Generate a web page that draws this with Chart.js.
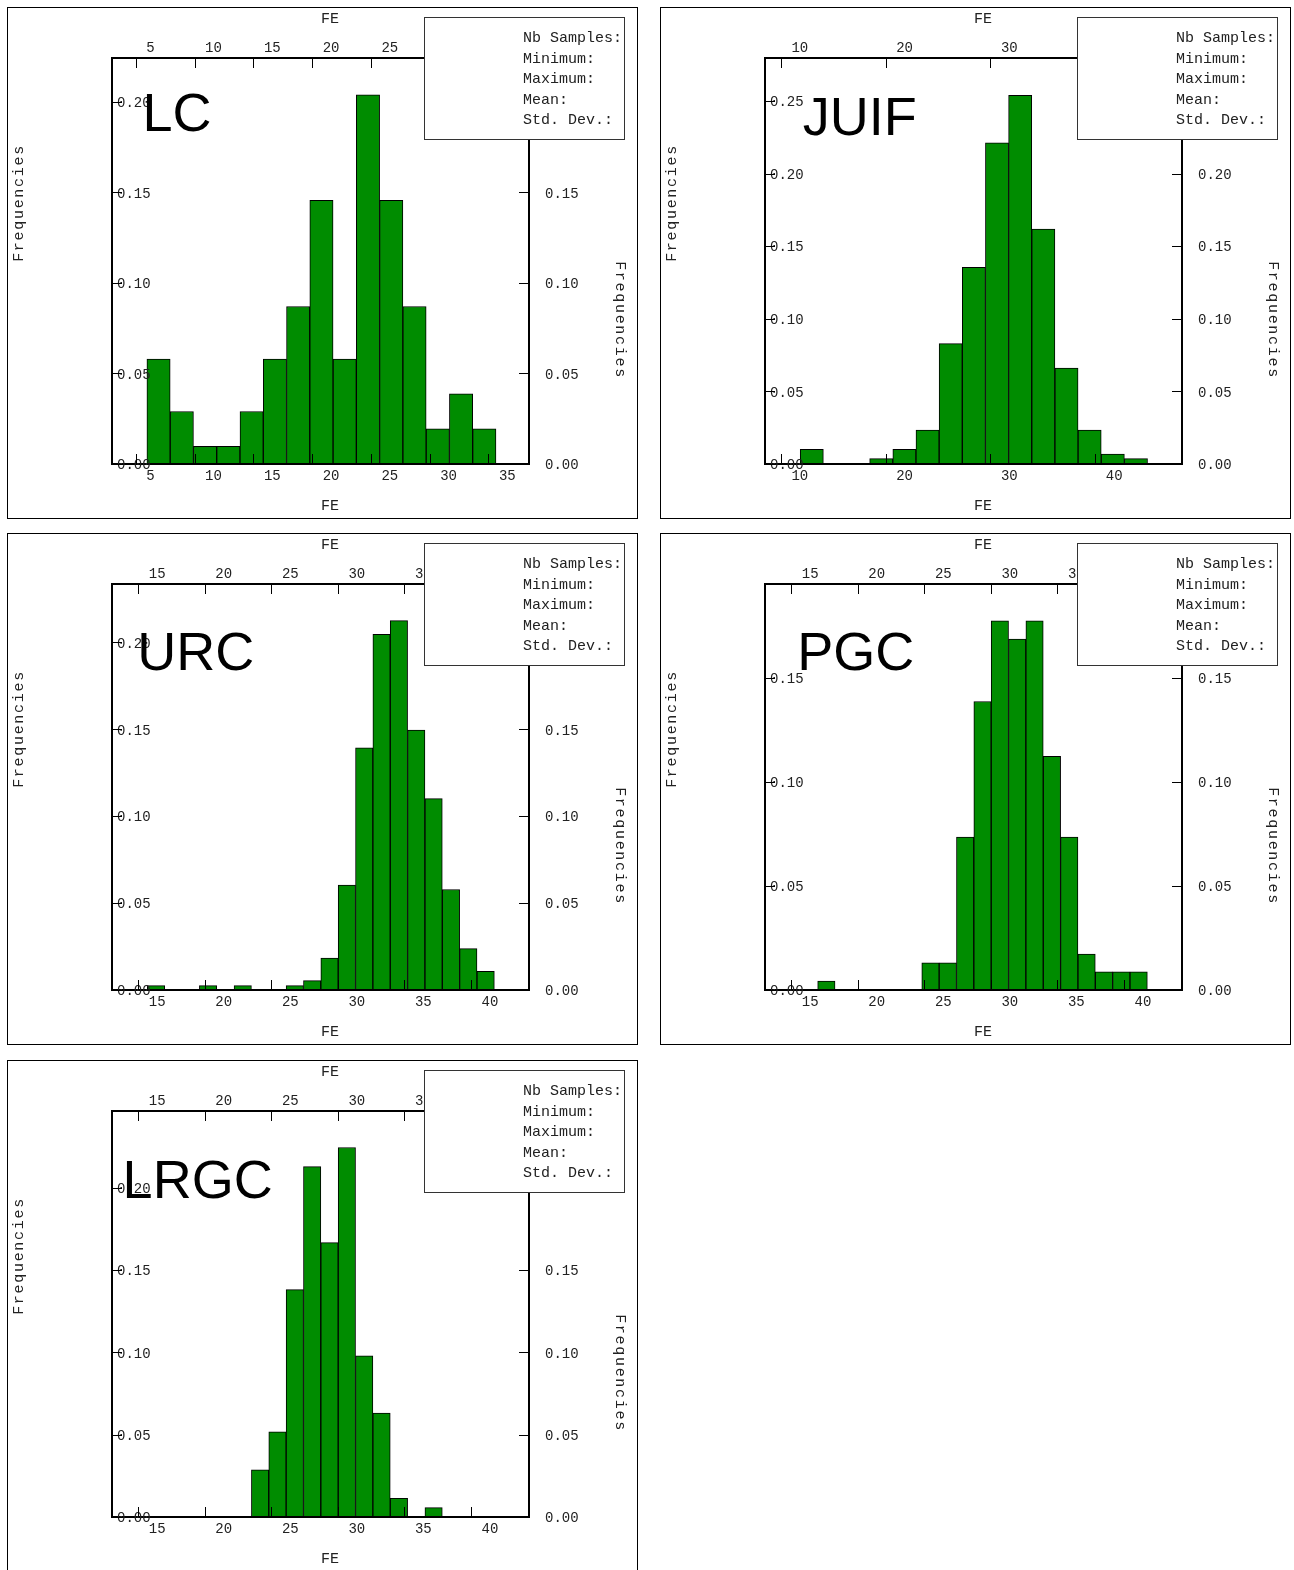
<!DOCTYPE html>
<html>
<head>
<meta charset="utf-8">
<script src="https://cdn.jsdelivr.net/npm/chart.js@4.4.1/dist/chart.umd.min.js"></script>
<style>
  body { margin: 0; background: #fff; width: 1294px; height: 1570px; overflow: hidden; position: relative; }
  div.panel { position: absolute; border: 1px solid #000; width: 629px; height: 510px; }
  div.panel canvas { display: block; }
</style>
</head>
<body>
<div class="panel" style="left:7px;top:7px"><canvas id="c0" width="629" height="510"></canvas></div>
<div class="panel" style="left:660px;top:7px"><canvas id="c1" width="629" height="510"></canvas></div>
<div class="panel" style="left:7px;top:533px"><canvas id="c2" width="629" height="510"></canvas></div>
<div class="panel" style="left:660px;top:533px"><canvas id="c3" width="629" height="510"></canvas></div>
<div class="panel" style="left:7px;top:1060px"><canvas id="c4" width="629" height="510"></canvas></div>
<script>
// group names and the (empty) statistics block
const groups = ['LC', 'JUIF', 'URC', 'PGC', 'LRGC'];
const statLabels = ['Nb Samples:', 'Minimum:', 'Maximum:', 'Mean:', 'Std. Dev.:'];

// bin centres (FE)
const lcBins = [6.93, 8.91, 10.89, 12.87, 14.85, 16.83, 18.81, 20.79, 22.77, 24.75, 26.73, 28.71, 30.69, 32.67, 34.65];
const juifBins = [12.945, 15.155, 17.365, 19.575, 21.785, 23.995, 26.205, 28.415, 30.625, 32.835, 35.045, 37.255, 39.465, 41.675, 43.885];
const sharedBins = [16.327, 17.631, 18.935, 20.239, 21.543, 22.847, 24.151, 25.455, 26.759, 28.063,
                    29.367, 30.671, 31.975, 33.279, 34.583, 35.887, 37.191, 38.495, 39.799, 41.103];

// frequencies
const lcFreq = [0.058, 0.029, 0.0097, 0.0097, 0.029, 0.058, 0.087, 0.1456, 0.058, 0.204, 0.1456, 0.087, 0.0194, 0.0388, 0.0194];
const juifFreq = [0.0101, null, null, 0.0037, 0.0101, 0.0234, 0.0829, 0.1355, 0.2211, 0.2539, 0.1617, 0.0661, 0.0234, 0.0069, 0.0037];
const urcFreq = [0.0025, null, null, 0.0025, null, 0.0025, null, null, 0.0025, 0.0054,
                 0.0184, 0.0603, 0.1393, 0.2046, 0.2125, 0.1496, 0.1101, 0.0578, 0.0238, 0.0108];
const pgcFreq = [null, 0.0043, null, null, null, null, null, 0.0131, 0.0131, 0.0734,
                 0.1385, 0.1772, 0.1684, 0.1772, 0.1122, 0.0734, 0.0173, 0.0087, 0.0087, 0.0087];
const lrgcFreq = [null, null, null, null, null, null, 0.0287, 0.0517, 0.1382, 0.2130,
                  0.1668, 0.2246, 0.0979, 0.0631, 0.0114, null, 0.0057, null, null, null];

// tick labels
const lcTicksX = [5, 10, 15, 20, 25, 30, 35];
const juifTicksX = [10, 20, 30, 40];
const sharedTicksX = [15, 20, 25, 30, 35, 40];
const ticksY = [0, 0.05, 0.10, 0.15, 0.20];
const juifTicksY = [0, 0.05, 0.10, 0.15, 0.20, 0.25];
const pgcTicksY = [0, 0.05, 0.10, 0.15];

// axis ranges
const lcRange = [2.97, 38.45];
const juifRange = [8.48, 48.28];
const sharedRange = [13.02, 44.36];

const panels = [
  { id: 'c0', name: groups[0], bins: lcBins, freq: lcFreq, xRange: lcRange, yMax: 0.2243, xTicks: lcTicksX, yTicks: ticksY, labelAt: [134.5, 123] },
  { id: 'c1', name: groups[1], bins: juifBins, freq: juifFreq, xRange: juifRange, yMax: 0.2796, xTicks: juifTicksX, yTicks: juifTicksY, labelAt: [141.7, 127] },
  { id: 'c2', name: groups[2], bins: sharedBins, freq: urcFreq, xRange: sharedRange, yMax: 0.2336, xTicks: sharedTicksX, yTicks: ticksY, labelAt: [129.3, 136] },
  { id: 'c3', name: groups[3], bins: sharedBins, freq: pgcFreq, xRange: sharedRange, yMax: 0.1949, xTicks: sharedTicksX, yTicks: pgcTicksY, labelAt: [136.2, 136] },
  { id: 'c4', name: groups[4], bins: sharedBins, freq: lrgcFreq, xRange: sharedRange, yMax: 0.2468, xTicks: sharedTicksX, yTicks: ticksY, labelAt: [114.6, 137] },
];

const mono = '"Liberation Mono", "Courier New", monospace';
const tickFont = { family: mono, size: 14 };

// inward tick marks, axis titles, group name and the stats box
const decorations = {
  id: 'decorations',
  afterDraw(chart, args, opts) {
    const { ctx, chartArea: a, scales } = chart;
    ctx.save();

    ctx.strokeStyle = '#000';
    ctx.lineWidth = 1;
    ctx.beginPath();
    for (const t of scales.x.ticks) {
      const px = Math.round(scales.x.getPixelForValue(t.value)) + 0.5;
      ctx.moveTo(px, a.bottom);
      ctx.lineTo(px, a.bottom - 10);
    }
    for (const t of scales.xTop.ticks) {
      const px = Math.round(scales.xTop.getPixelForValue(t.value)) + 0.5;
      ctx.moveTo(px, a.top);
      ctx.lineTo(px, a.top + 10);
    }
    for (const t of scales.y.ticks) {
      const py = Math.round(scales.y.getPixelForValue(t.value)) + 0.5;
      ctx.moveTo(a.left, py);
      ctx.lineTo(a.left + 10, py);
    }
    for (const t of scales.yRight.ticks) {
      const py = Math.round(scales.yRight.getPixelForValue(t.value)) + 0.5;
      ctx.moveTo(a.right, py);
      ctx.lineTo(a.right - 10, py);
    }
    ctx.stroke();

    // axis titles
    ctx.fillStyle = '#222';
    ctx.font = '15px ' + mono;
    ctx.textAlign = 'center';
    ctx.textBaseline = 'middle';
    ctx.fillText('FE', 322, 11);
    ctx.fillText('FE', 322, 498);
    ctx.letterSpacing = '1.7px';
    ctx.save();
    ctx.translate(11, 195);
    ctx.rotate(-Math.PI / 2);
    ctx.fillText('Frequencies', 0, 0);
    ctx.restore();
    ctx.save();
    ctx.translate(612, 312);
    ctx.rotate(Math.PI / 2);
    ctx.fillText('Frequencies', 0, 0);
    ctx.restore();
    ctx.letterSpacing = '0px';

    // group name
    ctx.fillStyle = '#000';
    ctx.font = '54px "Liberation Sans", Arial, sans-serif';
    ctx.textAlign = 'left';
    ctx.textBaseline = 'alphabetic';
    ctx.fillText(opts.name, opts.labelAt[0], opts.labelAt[1]);

    // statistics box
    ctx.fillStyle = '#fff';
    ctx.fillRect(416, 9, 200, 122);
    ctx.strokeStyle = '#333';
    ctx.strokeRect(416.5, 9.5, 200, 122);
    ctx.fillStyle = '#222';
    ctx.font = '15px ' + mono;
    ctx.textBaseline = 'middle';
    statLabels.forEach((s, i) => ctx.fillText(s, 515, 30.5 + i * 20.5));

    ctx.restore();
  }
};

function makeChart(p) {
  const xAxis = (pos, h, pad) => ({
    type: 'linear',
    position: pos,
    offset: false,
    min: p.xRange[0],
    max: p.xRange[1],
    afterBuildTicks: s => { s.ticks = p.xTicks.map(v => ({ value: v })); },
    afterFit: s => { s.height = h; },
    grid: { display: false, drawTicks: false, offset: false },
    border: { display: true, color: '#000', width: 2, z: 1 },
    ticks: { align: 'start', labelOffset: 10.5, padding: pad, color: '#222', font: tickFont,
             autoSkip: false, maxRotation: 0, z: 1, callback: v => String(v) }
  });
  const yAxis = (pos, w, mirror, pad) => ({
    type: 'linear',
    position: pos,
    min: 0,
    max: p.yMax,
    afterBuildTicks: s => { s.ticks = p.yTicks.map(v => ({ value: v })); },
    afterFit: s => { s.width = w; },
    grid: { display: false, drawTicks: false },
    border: { display: true, color: '#000', width: 2, z: 1 },
    ticks: { mirror: mirror, padding: pad, labelOffset: 1.5, color: '#222', font: tickFont,
             autoSkip: false, z: 1, callback: v => v.toFixed(2) }
  });

  return new Chart(document.getElementById(p.id), {
    type: 'bar',
    data: {
      datasets: [{
        data: p.bins.map((x, i) => ({ x: x, y: p.freq[i] })),
        xAxisID: 'x',
        yAxisID: 'y',
        backgroundColor: '#008c00',
        borderColor: '#000',
        borderWidth: 1,
        barPercentage: 1,
        categoryPercentage: 1
      }]
    },
    options: {
      responsive: false,
      animation: false,
      events: [],
      layout: { padding: 0 },
      scales: {
        x: xAxis('bottom', 54, 4),
        xTop: xAxis('top', 50, 1),
        y: yAxis('left', 104, true, 5),
        yRight: yAxis('right', 108, false, 16)
      },
      plugins: {
        legend: { display: false },
        tooltip: { enabled: false },
        decorations: { name: p.name, labelAt: p.labelAt }
      }
    },
    plugins: [decorations]
  });
}

panels.forEach(makeChart);
</script>
</body>
</html>
